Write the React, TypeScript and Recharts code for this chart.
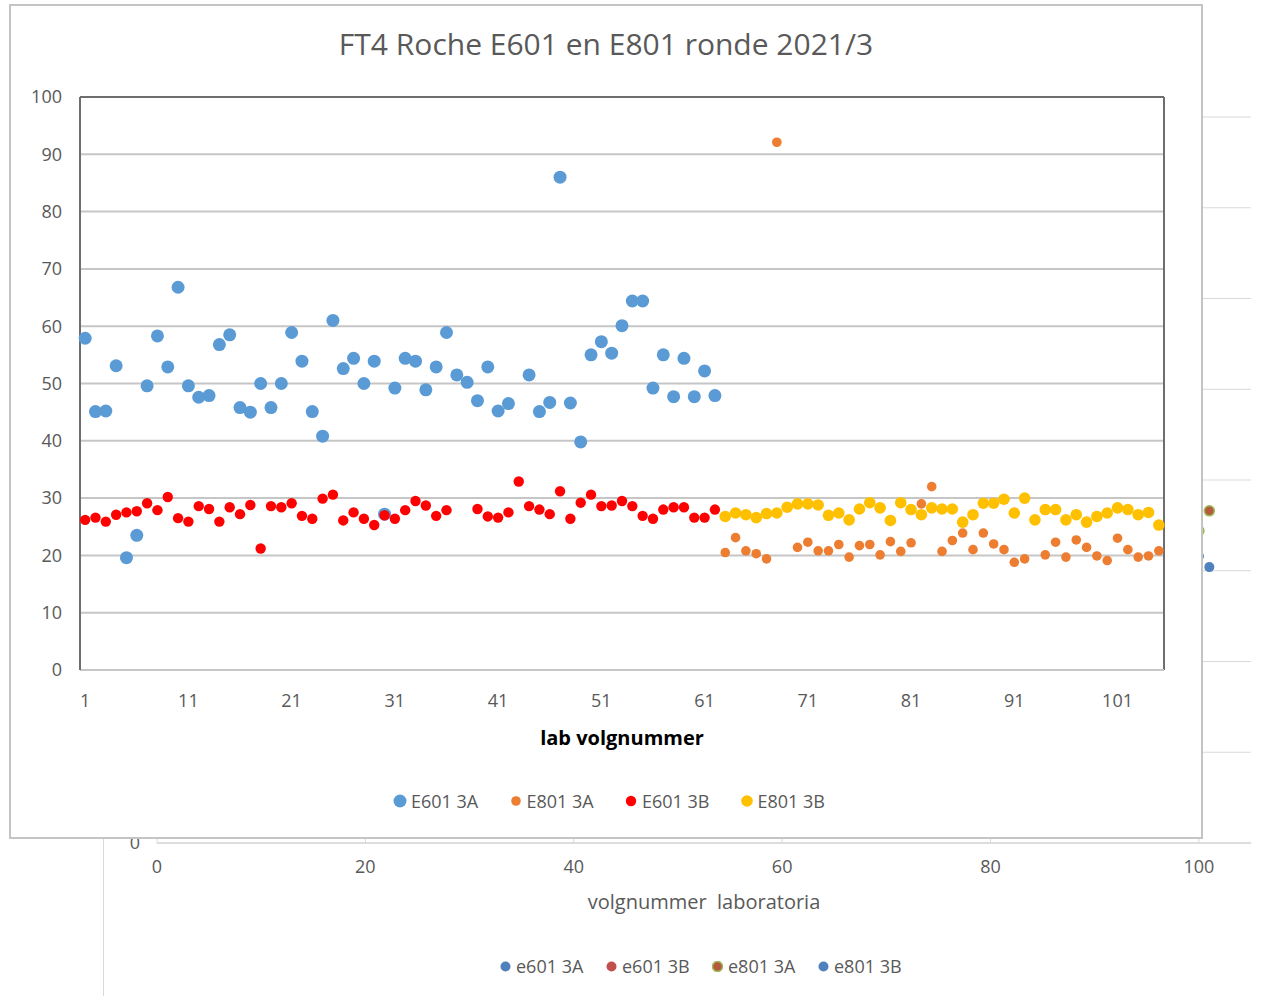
import React from 'react';
import { ScatterChart, Scatter, XAxis, YAxis, CartesianGrid, Legend, ReferenceLine } from 'recharts';

// lab 1..62 measured on the E601, lab 63..105 on the E801
const E601_FIRST_LAB = 1;
const E801_FIRST_LAB = 63;

const e601_3A = [
  57.9, 45.1, 45.2, 53.1, 19.6, 23.5, 49.6, 58.3, 52.9, 66.8,
  49.6, 47.6, 47.9, 56.8, 58.5, 45.8, 45.0, 50.0, 45.8, 50.0,
  58.9, 53.9, 45.1, 40.8, 61.0, 52.6, 54.4, 50.0, 53.9, 27.2,
  49.2, 54.4, 53.9, 48.9, 52.9, 58.9, 51.5, 50.2, 47.0, 52.9,
  45.2, 46.5, null, 51.5, 45.1, 46.7, 86.0, 46.6, 39.8, 55.0,
  57.3, 55.3, 60.1, 64.4, 64.4, 49.2, 55.0, 47.7, 54.4, 47.7,
  52.2, 47.9,
];

const e601_3B = [
  26.2, 26.6, 25.9, 27.1, 27.5, 27.7, 29.1, 27.9, 30.2, 26.5,
  25.9, 28.6, 28.1, 25.9, 28.4, 27.2, 28.8, 21.2, 28.6, 28.4,
  29.1, 26.9, 26.4, 29.9, 30.6, 26.1, 27.5, 26.4, 25.3, 27.0,
  26.4, 27.9, 29.5, 28.7, 26.9, 27.9, null, null, 28.1, 26.8,
  26.6, 27.5, 32.9, 28.6, 28.0, 27.2, 31.2, 26.4, 29.2, 30.6,
  28.6, 28.7, 29.5, 28.6, 26.9, 26.4, 28.0, 28.4, 28.4, 26.6,
  26.6, 28.0,
];

const e801_3A = [
  20.5, 23.1, 20.8, 20.3, 19.4, 92.1, null, 21.4, 22.3, 20.8,
  20.8, 21.9, 19.7, 21.7, 21.9, 20.1, 22.4, 20.7, 22.2, 29.0,
  32.0, 20.7, 22.6, 23.9, 21.0, 23.9, 22.0, 21.0, 18.8, 19.4,
  null, 20.1, 22.3, 19.7, 22.7, 21.4, 19.9, 19.1, 23.0, 21.0,
  19.7, 19.9, 20.8,
];

const e801_3B = [
  26.8, 27.4, 27.1, 26.6, 27.3, 27.4, 28.4, 29.0, 29.0, 28.8,
  27.0, 27.4, 26.2, 28.1, 29.2, 28.3, 26.1, 29.2, 28.0, 27.1,
  28.3, 28.1, 28.1, 25.8, 27.1, 29.1, 29.1, 29.8, 27.4, 30.0,
  26.2, 28.0, 28.0, 26.2, 27.1, 25.8, 26.8, 27.4, 28.3, 28.0,
  27.1, 27.5, 25.3,
];

const labTicks = [1, 11, 21, 31, 41, 51, 61, 71, 81, 91, 101];
const valueTicks = [0, 10, 20, 30, 40, 50, 60, 70, 80, 90, 100];

// older chart lying behind this one, only its right edge and bottom show
const oldLabs = [100, 101];
const old_e801_3A = [17.2, 18.3];
const old_e801_3B = [15.8, 15.2];
const oldLabTicks = [0, 20, 40, 60, 80, 100];
const oldValueTicks = [0, 5, 10, 15, 20, 25, 30, 35, 40];

const toPoints = (values: (number | null)[], firstLab: number) =>
  values
    .map((v, i) => (v == null ? null : { x: firstLab + i, y: v }))
    .filter(Boolean) as { x: number; y: number }[];

const mainSeries = [
  { name: 'E601 3A', color: '#5B9BD5', r: 6.5, points: toPoints(e601_3A, E601_FIRST_LAB) },
  { name: 'E801 3A', color: '#ED7D31', r: 4.8, points: toPoints(e801_3A, E801_FIRST_LAB) },
  { name: 'E601 3B', color: '#FF0000', r: 5.2, points: toPoints(e601_3B, E601_FIRST_LAB) },
  { name: 'E801 3B', color: '#FFC000', r: 5.8, points: toPoints(e801_3B, E801_FIRST_LAB) },
];

const oldSeries = [
  { name: 'e601 3A', color: '#4F81BD', r: 5, points: [] as { x: number; y: number }[] },
  { name: 'e601 3B', color: '#C0504D', r: 5, points: [] as { x: number; y: number }[] },
  { name: 'e801 3A', color: '#B55A3C', stroke: '#9BBB59', r: 5, points: oldLabs.map((x, i) => ({ x, y: old_e801_3A[i] })) },
  { name: 'e801 3B', color: '#4F81BD', r: 5, points: oldLabs.map((x, i) => ({ x, y: old_e801_3B[i] })) },
];

const TEXT = '#595959';

const dot = (color: string, r: number, stroke?: string) => (props: any) => {
  if (props.cx == null || props.cy == null) return <g />;
  return (
    <circle cx={props.cx} cy={props.cy} r={r} fill={color}
      stroke={stroke || 'none'} strokeWidth={stroke ? 1.5 : 0} />
  );
};

function SeriesLegend({ items, itemWidth, box, gap, fontSize, height }: any) {
  return (
    <div style={{ display: 'flex', alignItems: 'center', height, color: TEXT, fontSize }}>
      {items.map((s: any) => (
        <div key={s.name} style={{ display: 'flex', alignItems: 'center', width: itemWidth, flex: 'none' }}>
          <svg width={box} height={box} style={{ flex: 'none' }}>
            <circle cx={box / 2} cy={box / 2} r={s.r} fill={s.color}
              stroke={s.stroke || 'none'} strokeWidth={s.stroke ? 1.5 : 0} />
          </svg>
          <span style={{ marginLeft: gap, whiteSpace: 'nowrap' }}>{s.name}</span>
        </div>
      ))}
    </div>
  );
}

export default function App() {
  return (
    <div style={{ position: 'absolute', left: 0, top: 0, width: 1274, height: 996, overflow: 'hidden', background: '#fff', fontFamily: "'Open Sans', sans-serif" }}>
      {/* old chart */}
      <div style={{ position: 'absolute', left: 0, top: 0 }}>
        <ScatterChart width={1274} height={996} margin={{ top: 117, right: 23, bottom: 18, left: 117 }}>
          <CartesianGrid stroke="#d9d9d9" horizontalValues={oldValueTicks} verticalValues={oldLabTicks} />
          <XAxis type="number" dataKey="x" domain={[0, 105]} ticks={oldLabTicks} interval={0}
            tickLine={false} axisLine={{ stroke: '#d9d9d9', strokeWidth: 1.5 }}
            tick={{ fill: TEXT, fontSize: 18 }} tickMargin={11} height={111}
            label={{ value: 'volgnummer\u00a0 laboratoria', position: 'insideTop', offset: 52, fill: TEXT, fontSize: 20 }} />
          <YAxis type="number" dataKey="y" domain={[0, 40]} ticks={oldValueTicks} interval={0}
            tickLine={false} axisLine={false} tick={{ fill: TEXT, fontSize: 18 }} tickMargin={11} width={40} />
          {oldSeries.map((s) => (
            <Scatter key={s.name} name={s.name} data={s.points} fill={s.color}
              shape={dot(s.color, s.r, s.stroke)} isAnimationActive={false} />
          ))}
          <Legend verticalAlign="bottom" wrapperStyle={{ left: 500, width: 440 }}
            content={() => <SeriesLegend items={oldSeries} itemWidth={106} box={11} gap={5} fontSize={18} height={24} />} />
        </ScatterChart>
      </div>
      <div style={{ position: 'absolute', left: 103, top: 836, width: 1, height: 160, background: '#d9d9d9' }} />

      {/* current chart */}
      <div style={{ position: 'absolute', left: 9, top: 4, width: 1194, height: 835, border: '2px solid #c4c4c4', boxSizing: 'border-box', background: '#fff' }}>
        <div style={{ position: 'absolute', left: 0, right: 0, top: 17, textAlign: 'center', fontSize: 30, color: TEXT, whiteSpace: 'nowrap' }}>
          FT4 Roche E601 en E801 ronde 2021/3
        </div>
        <ScatterChart width={1190} height={831} margin={{ top: 91, right: 37, bottom: 23, left: 14 }}>
          <CartesianGrid vertical={false} stroke="#c6c6c6" strokeWidth={2} />
          <XAxis type="number" dataKey="x" domain={[0.5, 105.5]} ticks={labTicks} interval={0}
            tickLine={false} axisLine={{ stroke: '#c6c6c6', strokeWidth: 2 }}
            tick={{ fill: TEXT, fontSize: 18 }} tickMargin={18} height={118}
            label={{ value: 'lab volgnummer', position: 'insideTop', offset: 61, fill: '#000', fontSize: 20, fontWeight: 700 }} />
          <YAxis type="number" dataKey="y" domain={[0, 100]} ticks={valueTicks} interval={0}
            tickLine={false} axisLine={{ stroke: '#6e6e6e', strokeWidth: 2 }}
            tick={{ fill: TEXT, fontSize: 18 }} tickMargin={12} width={55} />
          <ReferenceLine y={100} stroke="#6e6e6e" strokeWidth={2} ifOverflow="visible" />
          <ReferenceLine x={105.5} stroke="#6e6e6e" strokeWidth={2} ifOverflow="visible" />
          {mainSeries.map((s) => (
            <Scatter key={s.name} name={s.name} data={s.points} fill={s.color}
              shape={dot(s.color, s.r)} isAnimationActive={false} />
          ))}
          <Legend verticalAlign="bottom" wrapperStyle={{ left: 382, width: 480 }}
            content={() => <SeriesLegend items={mainSeries} itemWidth={115.5} box={14} gap={4} fontSize={18} height={26} />} />
        </ScatterChart>
      </div>
    </div>
  );
}
